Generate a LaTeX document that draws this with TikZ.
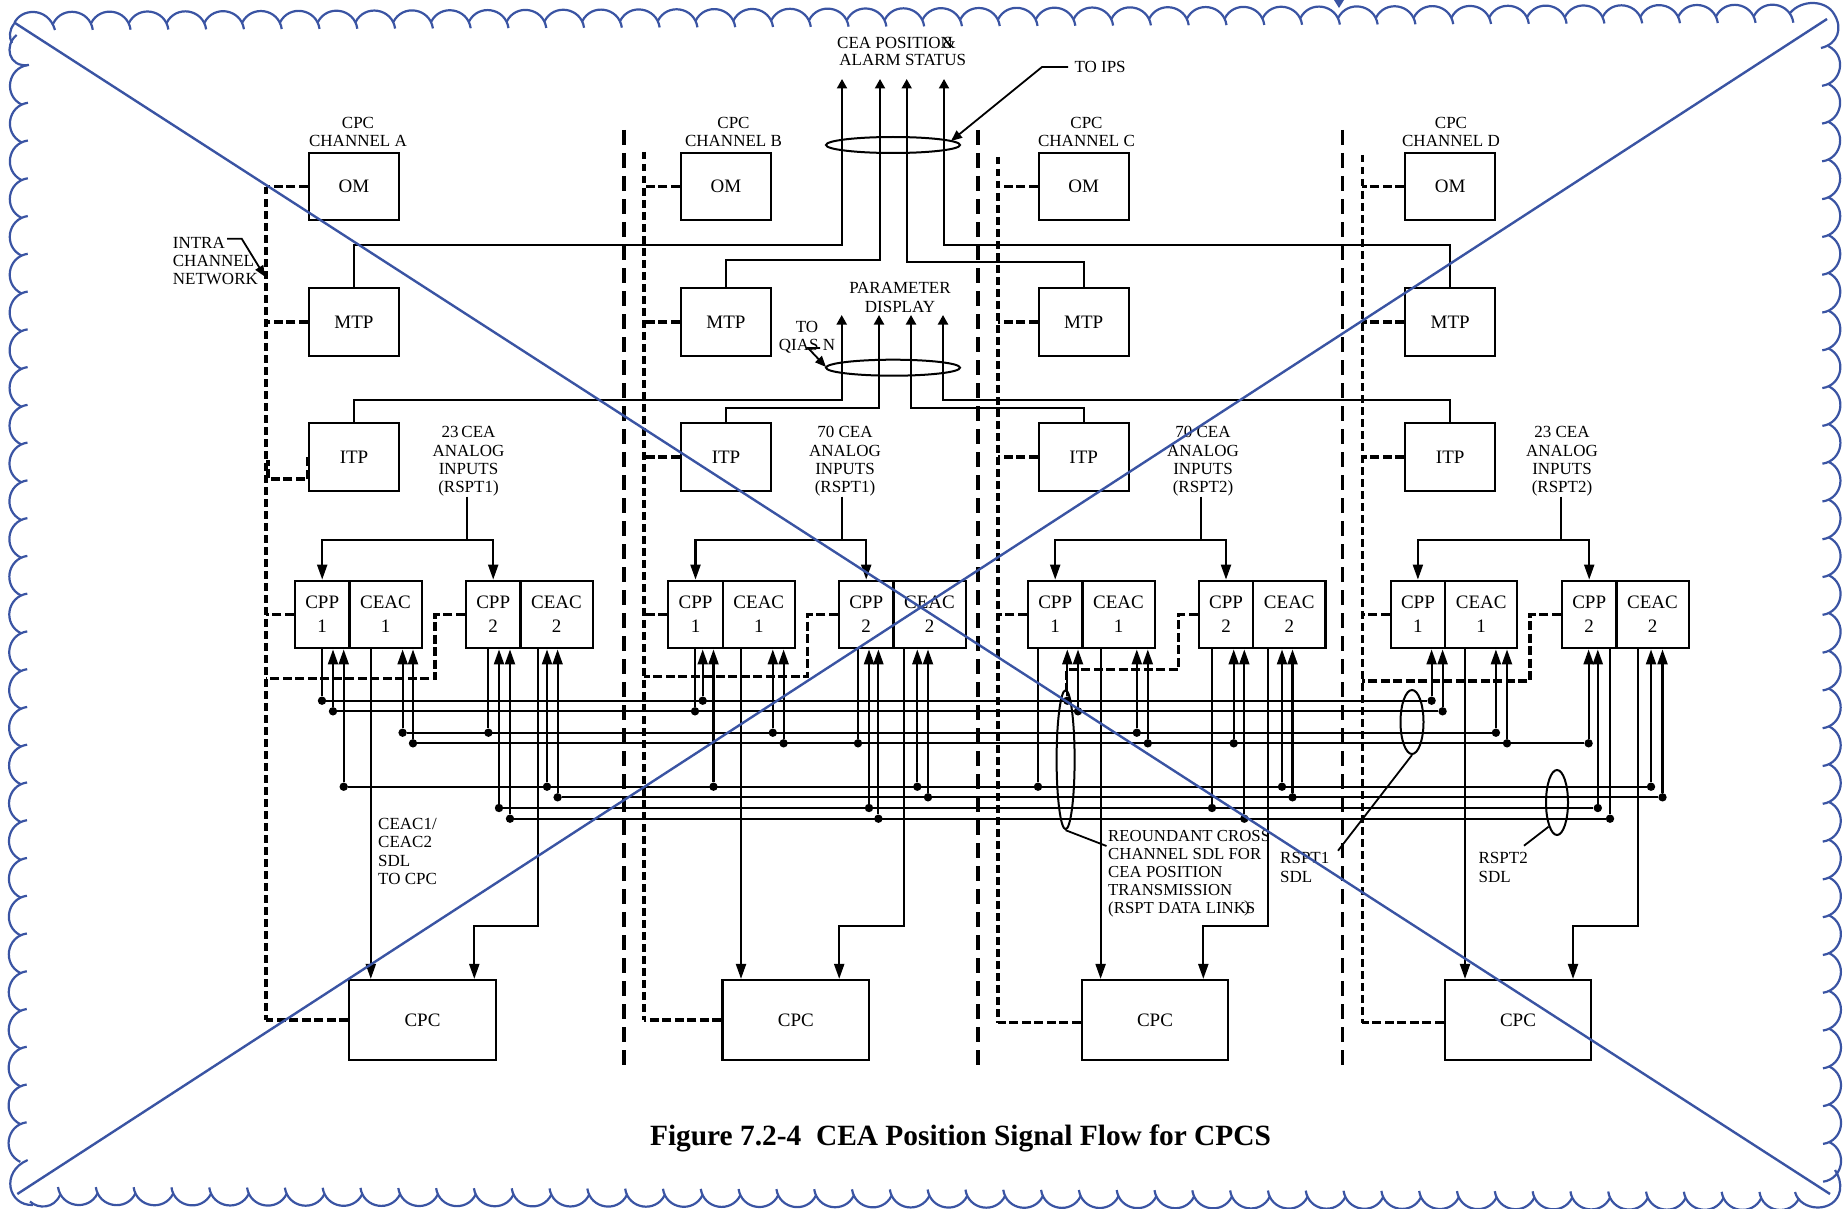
\documentclass[tikz,border=0pt]{standalone}
\usepackage{fontspec}
\setmainfont{Liberation Serif}
\usetikzlibrary{arrows.meta,shapes.geometric}
\definecolor{cloudblue}{RGB}{58,84,163}
\newcommand\labfont{\fontsize{17}{18.4}\selectfont}
\newcommand\boxfont{\fontsize{19}{23.7}\selectfont}
\tikzset{
  wire/.style={draw=black,line width=2.1pt},
  tipbig/.style={wire,-{Triangle[length=15pt,width=10pt]}},
  tipsmall/.style={wire,-{Triangle[length=9.5pt,width=10pt]}},
  tipleader/.style={line width=1.8pt,-{Triangle[length=11pt,width=9pt]}},
  leader/.style={line width=1.8pt},
  sepline/.style={line width=3.6pt,dash pattern=on 15pt off 8pt},
  busline/.style={line width=3.2pt,dash pattern=on 7.5pt off 4.5pt},
  stubline/.style={line width=3.2pt,dash pattern=on 9pt off 3.5pt},
  blk/.style={draw=black,line width=2.2pt,inner sep=0pt,font=\boxfont,align=center},
  ctl/.style={blk,minimum width=90pt,minimum height=67.5pt},
  cppcell/.style={blk,minimum width=54.4pt,minimum height=67.6pt},
  ceaccell/.style={blk,minimum width=72.2pt,minimum height=67.6pt},
  cpcbox/.style={blk,minimum width=146.6pt,minimum height=80pt},
  lab/.style={inner sep=0pt,font=\labfont,align=center},
  labl/.style={inner sep=0pt,font=\labfont,align=left,anchor=west},
  dot/.style={circle,fill=black,inner sep=0pt,minimum size=8.4pt},
  ring/.style={ellipse,draw=black,line width=2pt,inner sep=0pt},
  cloud/.style={draw=cloudblue,line width=2.2pt},
  cross/.style={draw=cloudblue,line width=2.4pt},
}
\newcommand\unitpair[3]{%
  \node[cppcell] (cpp#1) at (#2+27.2,614.5) {\raisebox{-1pt}{CPP}\\\raisebox{-1pt}{#3}};
  \node[ceaccell] (ceac#1) at (#2+54.4+36.1,614.5) {\raisebox{-1pt}{CEAC}\\\raisebox{-1pt}{#3}};
}
\newcommand\tapin[4]{%
  \node[dot] (#1) at (#2,#3) {};
  \draw[tipbig] (#1) -- (#1 |- #4.south);
}
\newcommand\tapout[4]{%
  \node[dot] (#1) at (#2,#3) {};
  \draw[wire] (#4.south -| #1) -- (#1);
}
\begin{document}
\begin{tikzpicture}[x=1pt,y=-1pt]
\useasboundingbox (0,0) rectangle (1843,1209);

% control boxes
\foreach \c/\x in {A/354,B/726,C/1083.7,D/1450.2}{
  \node[ctl] (om\c) at (\x,186.5) {OM};
  \node[ctl] (mtp\c) at (\x,322) {MTP};
  \node[ctl] (itp\c) at (\x,457) {ITP};
}
\node[cpcbox] (cpcA) at (422.5,1020) {CPC};
\node[cpcbox] (cpcB) at (795.8,1020) {CPC};
\node[cpcbox] (cpcC) at (1155,1020) {CPC};
\node[cpcbox] (cpcD) at (1518,1020) {CPC};

% processor units
\unitpair{A1}{295}{1}\unitpair{A2}{466}{2}
\unitpair{B1}{668.3}{1}\unitpair{B2}{839}{2}
\unitpair{C1}{1028}{1}\unitpair{C2}{1198.8}{2}
\unitpair{D1}{1390.7}{1}\unitpair{D2}{1562}{2}

% labels
\node[lab] at (358,132) {CPC\\CHANNEL A};
\node[lab] at (733.5,132) {CPC\\CHANNEL B};
\node[lab] at (1086.5,132) {CPC\\CHANNEL C};
\node[lab] at (1451,132) {CPC\\CHANNEL D};
\node[labl] at (172.7,261) {INTRA\\CHANNEL\\NETWORK};
\node[lab] (tA) at (468.5,461.5) {23\,CEA\\ANALOG\\INPUTS\\(RSPT1)};
\node[lab] (tB) at (845,461.5) {70 CEA\\ANALOG\\INPUTS\\(RSPT1)};
\node[lab] (tC) at (1203,461.5) {70 CEA\\ANALOG\\INPUTS\\(RSPT2)};
\node[lab] (tD) at (1562,461.5) {23 CEA\\ANALOG\\INPUTS\\(RSPT2)};
\node[labl] at (837,42.7) {CEA POSITION};
\node[lab] at (949.3,42.7) {\&};
\node[lab] at (902.7,60) {ALARM STATUS};
\node[labl] at (1074.3,67) {TO IPS};
\node[lab] at (900,297.5) {PARAMETER\\DISPLAY};
\node[lab] at (807,337.5) {TO\\QIAS N};
\node[labl] at (378,851.5) {CEAC1/\\CEAC2\\SDL\\TO CPC};
\node[labl,font={\fontsize{16.8}{18}\selectfont}] at (1108,873.5) {REOUNDANT CROSS\\CHANNEL SDL FOR\\CEA POSITION\\TRANSMISSION\\(RSPT DATA LINKS};
\node[lab] at (1247,908.5) {)};
\node[labl] at (1280,867.5) {RSPT1\\SDL};
\node[labl] at (1478.4,867.5) {RSPT2\\SDL};
\node[inner sep=0pt,font={\fontsize{29.4}{32}\selectfont\bfseries}] at (960.5,1138) {Figure 7.2-4\ \ CEA Position Signal Flow for CPCS};

% separators
\foreach \x/\n in {624/a,978/b,1342.4/c}{
  \coordinate (sep\n t) at (\x,130);
  \coordinate (sep\n b) at (\x,1066);
  \draw[sepline] (sep\n t) -- (sep\n b);
}

% channel network buses
\coordinate (busA) at (266,187);
\coordinate (busB) at (644,152);
\coordinate (busC) at (998,157);
\coordinate (busD) at (1362.3,155);
\draw[busline] (busA) -- (busA |- cpcA.west);
\draw[busline] (busB) -- (busB |- cpcB.west);
\draw[busline] (busC) -- ([yshift=-2.7pt]busC |- cpcC.west);
\draw[busline] (busD) -- ([yshift=-2.7pt]busD |- cpcD.west);
\foreach \c in {A,B,C,D}{
  \draw[stubline] (om\c.west) -- (om\c.west -| bus\c);
  \draw[stubline] (mtp\c.west) -- (mtp\c.west -| bus\c);
  \draw[stubline] (cpp\c1.west) -- (cpp\c1.west -| bus\c);
}
\foreach \c in {B,C,D}{\draw[stubline] (itp\c.west) -- (itp\c.west -| bus\c);}
\coordinate (itpj) at (268,479);
\draw[stubline] (itpA.west) -- (itpA.west |- itpj) -- (itpj) -- (268,460);
\draw[stubline] (cpcA.west) -- (cpcA.west -| busA);
\draw[stubline] (cpcB.west) -- (cpcB.west -| busB);
\draw[stubline] ([yshift=-2.7pt]cpcC.west) -- ([yshift=-2.7pt]cpcC.west -| busC);
\draw[stubline] ([yshift=-2.7pt]cpcD.west) -- ([yshift=-2.7pt]cpcD.west -| busD);
\coordinate (lnkA) at (435,678.7);
\coordinate (lnkB) at (807.6,676.3);
\coordinate (lnkC) at (1178.6,669.3);
\coordinate (lnkD) at (1530,681);
\draw[stubline] (cppA2.west) -| (lnkA) -- (lnkA -| busA);
\draw[stubline] (cppB2.west) -| (lnkB) -- (lnkB -| busB);
\draw[stubline] (cppC2.west) -| (lnkC) -- (1066.6,669.3) -- (1066.6,693);
\draw[stubline] (cppD2.west) -| (lnkD) -- (lnkD -| busD);

% upward signal lines
\foreach \n/\x/\y in {1/842/245,2/880/260,3/906.7/262,4/944/245}{
  \coordinate (up\n) at (\x,79);
  \coordinate (upj\n) at (\x,\y);
}
\foreach \n/\x/\y in {1/841.7/400,2/879/408,3/911/408,4/943/400}{
  \coordinate (pd\n) at (\x,315);
  \coordinate (pdj\n) at (\x,\y);
}
\draw[tipsmall] (mtpA.north) |- (upj1) -- (up1);
\draw[tipsmall] (mtpB.north) |- (upj2) -- (up2);
\draw[tipsmall] (mtpC.north) |- (upj3) -- (up3);
\draw[tipsmall] (mtpD.north) |- (upj4) -- (up4);
\draw[tipsmall] (itpA.north) |- (pdj1) -- (pd1);
\draw[tipsmall] (itpB.north) |- (pdj2) -- (pd2);
\draw[tipsmall] (itpC.north) |- (pdj3) -- (pd3);
\draw[tipsmall] (itpD.north) |- (pdj4) -- (pd4);
\node[ring,minimum width=134pt,minimum height=16pt] (ringA) at (893,145) {};
\node[ring,minimum width=134pt,minimum height=16pt] (ringB) at (893,367.7) {};
\coordinate (ipsA) at (1068,67);
\coordinate (ipsB) at (1042,67);
\coordinate (ipsC) at (951,141);
\draw[tipleader] (ipsA) -- (ipsB) -- (ipsC);
\coordinate (qiasA) at (820,348);
\coordinate (qiasB) at (808,348);
\coordinate (qiasC) at (826,367);
\draw[tipleader] (qiasA) -- (qiasB) -- (qiasC);
\coordinate (netA) at (227,238.7);
\coordinate (netB) at (241.7,238.7);
\coordinate (netC) at (265,276.7);
\draw[tipleader] (netA) -- (netB) -- (netC);

% analog input feeds
\foreach \c/\x in {A/466.7,B/841.6,C/1201,D/1560.7}{
  \coordinate (feed\c) at (\x,496.7);
  \coordinate (bar\c) at (\x,540);
  \draw[wire] (feed\c) -- (bar\c);
  \draw[tipbig] (bar\c) -| (cpp\c1.north);
  \draw[tipbig] (bar\c) -| (cpp\c2.north);
}

% channel A taps
\tapout{a1}{322}{700.7}{cppA1}\tapin{a2}{333}{711.3}{cppA1}\tapin{a3}{343.7}{786.7}{cppA1}
\tapin{a4}{402.6}{732.7}{ceacA1}\tapin{a5}{413}{743.3}{ceacA1}
\tapout{a6}{488.4}{732.7}{cppA2}\tapin{a7}{499}{808}{cppA2}\tapin{a8}{510}{818.7}{cppA2}
\tapin{a9}{547}{786.7}{ceacA2}\tapin{a10}{557.6}{797.3}{ceacA2}
% channel B taps
\tapout{b1}{695}{711.3}{cppB1}\tapin{b2}{702.7}{700.7}{cppB1}\tapin{b3}{713.5}{786.7}{cppB1}
\tapin{b4}{772.8}{732.7}{ceacB1}\tapin{b5}{783.6}{743.3}{ceacB1}
\tapout{b6}{858}{743.3}{cppB2}\tapin{b7}{869}{808}{cppB2}\tapin{b8}{878.4}{818.7}{cppB2}
\tapin{b9}{917.3}{786.7}{ceacB2}\tapin{b10}{928}{797.3}{ceacB2}
% channel C taps
\tapout{c1}{1038}{786.7}{cppC1}\tapin{c2}{1067.3}{700.7}{cppC1}\tapin{c3}{1078}{711.3}{cppC1}
\tapin{c4}{1136.8}{732.7}{ceacC1}\tapin{c5}{1147.8}{743.3}{ceacC1}
\tapout{c6}{1212}{808}{cppC2}\tapin{c7}{1233.7}{743.3}{cppC2}\tapin{c8}{1244.3}{818.7}{cppC2}
\tapin{c9}{1282}{786.7}{ceacC2}\tapin{c10}{1292.5}{797.3}{ceacC2}
% channel D taps
\tapin{d1}{1431.6}{700.7}{cppD1}\tapin{d2}{1442.6}{711.3}{cppD1}
\tapin{d3}{1495.9}{732.7}{ceacD1}\tapin{d4}{1507}{743.3}{ceacD1}
\tapin{d5}{1588.6}{743.3}{cppD2}\tapin{d6}{1597.8}{808}{cppD2}\tapout{d7}{1610}{818.7}{cppD2}
\tapin{d8}{1651}{786.7}{ceacD2}\tapin{d9}{1662.5}{797.3}{ceacD2}

% data links
\draw[wire] (a1) -- (d1);
\draw[wire] (a2) -- (d2);
\draw[wire] (a4) -- (d3);
\draw[wire] (a5) -- (d5);
\draw[wire] (a3) -- (d8);
\draw[wire] (a10) -- (d9);
\draw[wire] (a7) -- (d6);
\draw[wire] (a8) -- (d7);

% CEAC outputs to CPC
\foreach \n/\x in {A1/370.8,B1/741,C1/1100.6,D1/1465}{
  \coordinate (out\n) at (\x,925.7);
}
\draw[tipbig] (ceacA1.south -| outA1) -- (cpcA.north -| outA1);
\draw[tipbig] (ceacB1.south -| outB1) -- (cpcB.north -| outB1);
\draw[tipbig] (ceacC1.south -| outC1) -- (cpcC.north -| outC1);
\draw[tipbig] (ceacD1.south -| outD1) -- (cpcD.north -| outD1);
\coordinate (outA2) at (538.4,925.7); \coordinate (inA2) at (474.3,925.7);
\coordinate (outB2) at (903.7,925.7); \coordinate (inB2) at (839.2,925.7);
\coordinate (outC2) at (1267.8,925.7); \coordinate (inC2) at (1203.3,925.7);
\coordinate (outD2) at (1637.7,925.7); \coordinate (inD2) at (1573,925.7);
\draw[tipbig] (ceacA2.south -| outA2) -- (outA2) -- (inA2) -- (cpcA.north -| inA2);
\draw[tipbig] (ceacB2.south -| outB2) -- (outB2) -- (inB2) -- (cpcB.north -| inB2);
\draw[tipbig] (ceacC2.south -| outC2) -- (outC2) -- (inC2) -- (cpcC.north -| inC2);
\draw[tipbig] (ceacD2.south -| outD2) -- (outD2) -- (inD2) -- (cpcD.north -| inD2);

% link rings
\node[ring,minimum width=18pt,minimum height=139pt] (ringX) at (1065.6,759.7) {};
\node[ring,minimum width=23pt,minimum height=64pt] (ringR1) at (1412,722) {};
\node[ring,minimum width=22pt,minimum height=65pt] (ringR2) at (1557,802.5) {};
\coordinate (ldX) at (1106.5,846);
\coordinate (ldR1) at (1338,850.7);
\coordinate (ldR2a) at (1548.6,826.7);
\coordinate (ldR2) at (1524,845.7);
\draw[leader] (ringX.south) -- (ldX);
\draw[leader] (ringR1.south) -- (ldR1);
\draw[leader] (ldR2a) -- (ldR2);

% review cloud
\foreach \i in {1,...,46}{
  \pgfmathsetmacro\tx{55+37.79*\i-20.78}
  \pgfmathsetmacro\ty{33-(\tx-34)*0.0042}
  \draw[cloud,shift={(\tx,\ty)}] (-18.85,-9.27) .. controls (-9.73,-27.8) and (17.84,-23.44) .. (20.78,-3);
}
\foreach \k in {1,...,30}{
  \pgfmathsetmacro\ty{48+37.79*\k-20.78}
  \pgfmathsetmacro\tx{1819+\k*0.035}
  \draw[cloud,shift={(\tx,\ty)}] (9.27,-18.85) .. controls (27.8,-9.73) and (23.44,17.84) .. (3,20.78);
}
\foreach \i in {0,...,45}{
  \pgfmathsetmacro\tx{58+37.81*\i+20.78}
  \pgfmathsetmacro\ty{1184+\i*0.11}
  \draw[cloud,shift={(\tx,\ty)}] (18.85,9.27) .. controls (9.73,27.8) and (-17.84,23.44) .. (-20.78,3);
}
\foreach \k in {0,...,28}{
  \pgfmathsetmacro\ty{65+37.76*\k+20.78}
  \pgfmathsetmacro\tx{31-\k*0.05}
  \draw[cloud,shift={(\tx,\ty)}] (-9.27,18.85) .. controls (-27.8,9.73) and (-23.44,-17.84) .. (-3,-20.78);
}
\draw[cloud] (14,24) .. controls (20,8) and (48,6) .. (55,30);
\draw[cloud] (29,65) .. controls (8,68) and (4,45) .. (16.7,35);
\draw[cloud] (14,24) .. controls (9,30) and (9,38) .. (12,43);
\draw[cloud] (1790,13) .. controls (1802,-1) and (1826,0) .. (1834,14) .. controls (1843,28) and (1838,44) .. (1821,48);
\draw[cloud] (1795,1192) .. controls (1800,1212) and (1836,1214) .. (1840,1190) .. controls (1841,1183) and (1839,1176) .. (1835,1170);
\draw[cloud] (27.7,1160) .. controls (0,1172) and (8,1206) .. (33,1205);
\draw[cloud] (30,1201.5) .. controls (38,1209) and (54,1209) .. (60,1195);
\fill[cloudblue] (1334,0) -- (1344,0) -- (1339,8) -- cycle;

% cancellation cross
\coordinate (xa) at (15,23);
\coordinate (xb) at (1830,1194);
\coordinate (xc) at (1827,19);
\coordinate (xd) at (17.3,1194);
\draw[cross] (xa) -- (xb);
\draw[cross] (xc) -- (xd);
\end{tikzpicture}
\end{document}
